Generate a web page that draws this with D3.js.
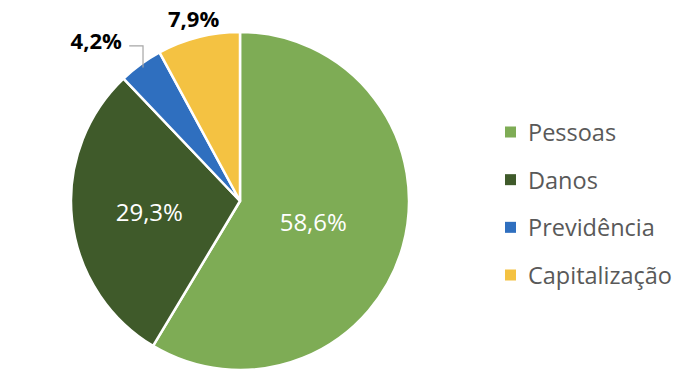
<!DOCTYPE html>
<html lang="pt">
  <head>
    <meta charset="UTF-8" />
    <title>Pie chart</title>
    <style>
      body { margin: 0; background: #fff; }
      text { font-family: "Open Sans", Lato, sans-serif; }
    </style>
  </head>
  <body>
    <svg width="696" height="379"></svg>

    <script src="https://d3js.org/d3.v7.min.js"></script>
    <script>
      const categories = ["Pessoas", "Danos", "Previdência", "Capitalização"];
      const shares = [58.6, 29.3, 4.2, 7.9];
      const colors = ["#7EAC55", "#3F5A2A", "#2F6FBF", "#F4C242"];

      const svg = d3.select("svg");
      const cx = 240, cy = 201, radius = 169;

      const pie = d3.pie().sort(null).value(d => d.v);
      const data = categories.map((c, i) => ({ c, v: shares[i], col: colors[i] }));
      const arcs = pie(data);

      const arc = d3.arc().innerRadius(0).outerRadius(radius);

      const g = svg.append("g").attr("transform", `translate(${cx},${cy})`);

      g.selectAll("path")
        .data(arcs)
        .join("path")
        .attr("d", arc)
        .attr("fill", d => d.data.col)
        .attr("stroke", "#fff")
        .attr("stroke-width", 2.5)
        .attr("stroke-linejoin", "round");

      const fmt = v => d3.format(".1f")(v).replace(".", ",") + "%";

      // inside labels for the two big slices
      const insideR = [0.45, 0.54];
      arcs.slice(0, 2).forEach((d, i) => {
        const r = radius * insideR[i];
        const [x, y] = d3.arc().innerRadius(r).outerRadius(r).centroid(d);
        g.append("text")
          .attr("x", x)
          .attr("y", y)
          .attr("text-anchor", "middle")
          .attr("dominant-baseline", "central")
          .attr("fill", "#fff")
          .attr("font-size", 24)
          .text(fmt(d.data.v));
      });

      const polar = (a, r) => [r * Math.sin(a), -r * Math.cos(a)];

      // Capitalização, outside
      const cap = arcs[3];
      const [capX, capY] = polar((cap.startAngle + cap.endAngle) / 2, 189);
      g.append("text")
        .attr("x", capX)
        .attr("y", capY)
        .attr("text-anchor", "middle")
        .attr("dominant-baseline", "central")
        .attr("font-weight", "bold")
        .attr("font-size", 22)
        .attr("fill", "#000")
        .text(fmt(cap.data.v));

      // Previdência, outside with leader line
      const prev = arcs[2];
      const mid = (prev.startAngle + prev.endAngle) / 2;
      const [ex, ey] = polar(mid, radius - 4);
      const [lx, ly] = polar(mid - 0.1, 216);
      g.append("polyline")
        .attr("points", [[lx + 33, ly + 6], [ex, ly + 6], [ex, ey]].map(p => p.join(",")).join(" "))
        .attr("fill", "none")
        .attr("stroke", "#A6A6A6")
        .attr("stroke-width", 1.2);
      g.append("text")
        .attr("x", lx)
        .attr("y", ly)
        .attr("text-anchor", "middle")
        .attr("dominant-baseline", "central")
        .attr("font-weight", "bold")
        .attr("font-size", 22)
        .attr("fill", "#000")
        .text(fmt(prev.data.v));

      // legend
      const legY = d3.scalePoint().domain(categories).range([132, 275]);
      const leg = svg.append("g");
      const items = leg.selectAll("g").data(data).join("g")
        .attr("transform", d => `translate(505,${legY(d.c)})`);
      items.append("rect")
        .attr("x", 0).attr("y", -5.5)
        .attr("width", 11).attr("height", 11)
        .attr("fill", d => d.col);
      items.append("text")
        .attr("x", 23)
        .attr("dominant-baseline", "central")
        .attr("font-size", 23.5)
        .attr("fill", "#595959")
        .text(d => d.c);
    </script>
  </body>
</html>
